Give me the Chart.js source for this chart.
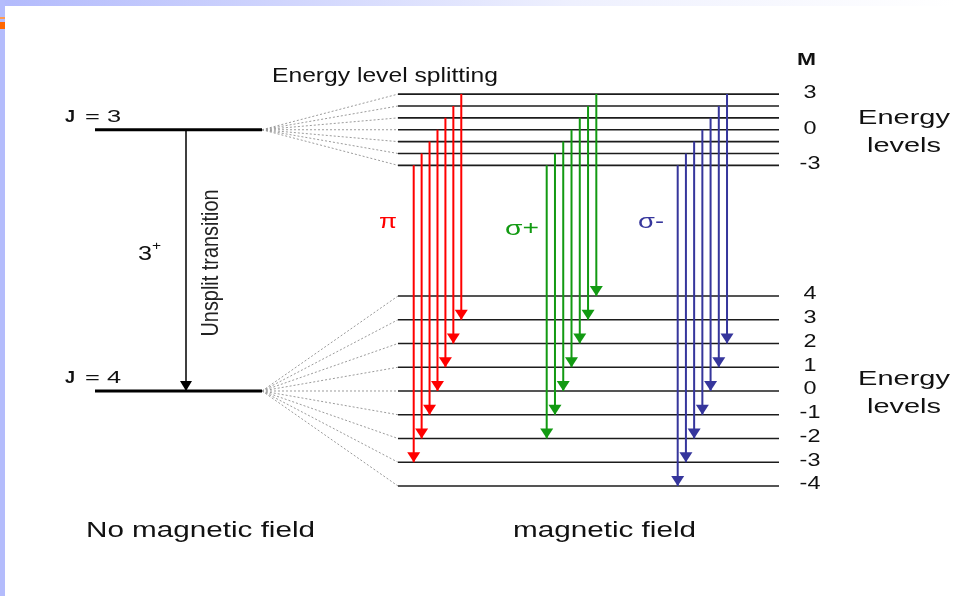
<!DOCTYPE html>
<html>
<head>
<meta charset="utf-8">
<script src="https://cdn.jsdelivr.net/npm/chart.js@4/dist/chart.umd.min.js"></script>
<style>
html, body { margin: 0; padding: 0; background: #fff; }
#wrap { position: relative; width: 954px; height: 596px; }
</style>
</head>
<body>
<div id="wrap"><canvas id="zeeman"></canvas></div>
<script>
// magnetic quantum numbers of the sublevels
const mUpper = [3, 2, 1, 0, -1, -2, -3];
const mLower = [4, 3, 2, 1, 0, -1, -2, -3, -4];
// sublevel energies (arbitrary units)
const eUpper = [12.5, 12, 11.5, 11, 10.5, 10, 9.5];
const eLower = [4, 3, 2, 1, 0, -1, -2, -3, -4];
// unsplit levels
const jNames = ["3", "4"];
const jEnergy = [11, 0];
// transitions, upper M -> lower M
const piFrom = [3, 2, 1, 0, -1, -2, -3];
const piTo = [3, 2, 1, 0, -1, -2, -3];
const sigmaPlusFrom = [3, 2, 1, 0, -1, -2, -3];
const sigmaPlusTo = [4, 3, 2, 1, 0, -1, -2];
const sigmaMinusFrom = [3, 2, 1, 0, -1, -2, -3];
const sigmaMinusTo = [2, 1, 0, -1, -2, -3, -4];
// tick labels on the right
const tickUpper = ["3", "", "", "0", "", "", "-3"];
const tickLower = ["4", "3", "2", "1", "0", "-1", "-2", "-3", "-4"];

const FONT = '"Liberation Sans", Arial, sans-serif';

function eUp(m){ return eUpper[mUpper.indexOf(m)]; }
function eLow(m){ return eLower[mLower.indexOf(m)]; }

let datasets = [];

// split levels
eUpper.concat(eLower).forEach(function(e){
    datasets.push({
        data: [{x: 398, y: e}, {x: 779, y: e}],
        borderColor: "#1c1c1c",
        borderWidth: 1.6,
        order: 2
    });
});

// unsplit J levels
jEnergy.forEach(function(e){
    datasets.push({
        data: [{x: 95, y: e}, {x: 262, y: e}],
        borderColor: "#000",
        borderWidth: 3,
        order: 2
    });
});

// dotted fans
eUpper.forEach(function(e){
    datasets.push({
        data: [{x: 262, y: jEnergy[0]}, {x: 398, y: e}],
        borderColor: "#9c9c9c",
        borderWidth: 1,
        borderDash: [2, 2],
        order: 3
    });
});
eLower.forEach(function(e){
    datasets.push({
        data: [{x: 262, y: jEnergy[1]}, {x: 398, y: e}],
        borderColor: "#9c9c9c",
        borderWidth: 1,
        borderDash: [2, 2],
        order: 3
    });
});

// unsplit transition arrow
datasets.push({
    data: [{x: 186, y: jEnergy[0]}, {x: 186, y: jEnergy[1]}],
    borderColor: "#000",
    borderWidth: 1.5,
    arrowHead: [12, 10],
    order: 1
});

function addGroup(from, to, left, step, colour){
    from.forEach(function(m, i){
        const cx = left + step * (m + 3);
        datasets.push({
            data: [{x: cx, y: eUp(m)}, {x: cx, y: eLow(to[i])}],
            borderColor: colour,
            borderWidth: 2,
            arrowHead: [13, 10],
            order: 0
        });
    });
}
addGroup(piFrom, piTo, 413.7, 7.93, "#ff0000");
addGroup(sigmaPlusFrom, sigmaPlusTo, 546.7, 8.27, "#129a12");
addGroup(sigmaMinusFrom, sigmaMinusTo, 677.7, 8.22, "#36369c");

datasets.forEach(function(d){
    d.showLine = true;
    d.pointRadius = 0;
    d.pointHoverRadius = 0;
    d.fill = false;
});

function putText(ctx, txt, x, y, o){
    ctx.save();
    ctx.font = (o.bold ? "bold " : "") + o.size + "px " + FONT;
    ctx.fillStyle = o.color || "#111";
    ctx.textBaseline = o.base || "alphabetic";
    ctx.textAlign = "left";
    const w = ctx.measureText(txt).width;
    const sx = o.width ? o.width / w : (o.sx || 1);
    ctx.translate(x, y);
    if(o.rotate){
        ctx.rotate(o.rotate);
        ctx.scale(sx, o.across || 1);
    } else {
        ctx.scale(sx, 1);
    }
    let dx = 0;
    if(o.align === "center") dx = -w / 2;
    if(o.align === "right") dx = -w;
    ctx.fillText(txt, dx, 0);
    ctx.restore();
}

const backdrop = {
    id: "backdrop",
    beforeDraw: function(chart){
        const ctx = chart.ctx;
        ctx.save();
        ctx.fillStyle = "#fff";
        ctx.fillRect(0, 0, chart.width, chart.height);
        const g = ctx.createLinearGradient(0, 0, chart.width, 0);
        g.addColorStop(0, "#b2bafc");
        g.addColorStop(0.6, "#eef0fe");
        g.addColorStop(1, "#ffffff");
        ctx.fillStyle = g;
        ctx.fillRect(0, 0, chart.width, 6);
        ctx.fillStyle = "#b4bcfc";
        ctx.fillRect(0, 0, 5, chart.height);
        ctx.fillStyle = "#ff9a50";
        ctx.fillRect(0, 17, 5, 2);
        ctx.fillStyle = "#ff6600";
        ctx.fillRect(0, 22, 5, 7);
        ctx.restore();
    }
};

const arrowsAndText = {
    id: "arrowsAndText",
    afterDatasetsDraw: function(chart){
        const ctx = chart.ctx;
        const xs = chart.scales.x;
        const ys = chart.scales.y;

        chart.data.datasets.forEach(function(d){
            if(!d.arrowHead) return;
            const p = d.data[d.data.length - 1];
            const px = xs.getPixelForValue(p.x);
            const py = ys.getPixelForValue(p.y);
            const w = d.arrowHead[0], h = d.arrowHead[1];
            ctx.save();
            ctx.fillStyle = d.borderColor;
            ctx.beginPath();
            ctx.moveTo(px, py);
            ctx.lineTo(px - w / 2, py - h);
            ctx.lineTo(px + w / 2, py - h);
            ctx.closePath();
            ctx.fill();
            ctx.restore();
        });

        // right hand M labels
        putText(ctx, "M", 797, 65, {size: 17, bold: true, width: 19});
        eUpper.forEach(function(e, i){
            if(!tickUpper[i]) return;
            putText(ctx, tickUpper[i], xs.getPixelForValue(810), ys.getPixelForValue(e) - 1,
                {size: 18, sx: 1.3, align: "center", base: "middle"});
        });
        eLower.forEach(function(e, i){
            putText(ctx, tickLower[i], xs.getPixelForValue(810), ys.getPixelForValue(e) - 1.5,
                {size: 18, sx: 1.3, align: "center", base: "middle"});
        });

        // "Energy levels" beside each group
        jEnergy.forEach(function(e){
            const py = ys.getPixelForValue(e);
            putText(ctx, "Energy", 904, py - 6, {size: 21, sx: 1.38, align: "center"});
            putText(ctx, "levels", 904, py + 22, {size: 21, sx: 1.38, align: "center"});
        });

        // J labels
        jEnergy.forEach(function(e, i){
            const py = ys.getPixelForValue(e) - 8;
            putText(ctx, "J", 65, py, {size: 17, bold: true, width: 10});
            putText(ctx, "= " + jNames[i], 85, py, {size: 17, width: 36});
        });

        putText(ctx, "3", 138, 260, {size: 21, sx: 1.2});
        putText(ctx, "+", 152, 250, {size: 13, sx: 1.2});

        putText(ctx, "Unsplit transition", 212, 263,
            {size: 18, width: 147, across: 1.3, rotate: -Math.PI / 2, align: "center", base: "middle", color: "#222"});

        putText(ctx, "Energy level splitting", 272, 82, {size: 20, width: 226});

        putText(ctx, "\u03c0", 379, 228, {size: 21, width: 18, color: "#ff0000"});
        putText(ctx, "\u03c3+", 505, 235, {size: 20, width: 34, color: "#129a12"});
        putText(ctx, "\u03c3-", 638, 228, {size: 20, width: 26, color: "#36369c"});

        putText(ctx, "No magnetic field", 86, 537, {size: 22, width: 229});
        putText(ctx, "magnetic field", 513, 537, {size: 22, width: 183});
    }
};

new Chart(document.getElementById("zeeman"), {
    type: "scatter",
    data: { datasets: datasets },
    options: {
        responsive: true,
        maintainAspectRatio: false,
        animation: false,
        layout: { padding: 0 },
        scales: {
            x: { type: "linear", min: 0, max: 954, display: false },
            y: { type: "linear", min: -8.632, max: 16.463, display: false }
        },
        plugins: {
            legend: { display: false },
            tooltip: { enabled: false }
        }
    },
    plugins: [backdrop, arrowsAndText]
});
</script>
</body>
</html>
